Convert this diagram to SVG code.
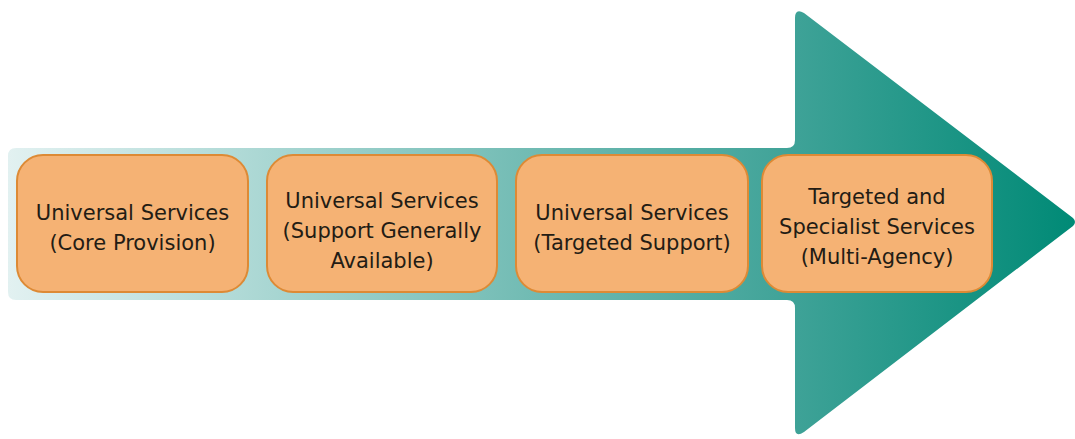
<svg xmlns="http://www.w3.org/2000/svg" width="1075" height="439" viewBox="0 0 1075 439">
<style>
.box{fill:#F5B274;stroke:#DD8A35;stroke-width:2}
.t{font-family:"DejaVu Sans",Verdana,sans-serif;font-size:21px;fill:#231c14;text-anchor:middle}
</style>
<defs>
<linearGradient id="g" gradientUnits="userSpaceOnUse" x1="8" y1="0" x2="1075" y2="0">
<stop offset="0" stop-color="#e2f1f1"/>
<stop offset="0.25" stop-color="#a8d6d2"/>
<stop offset="0.5" stop-color="#6fbab2"/>
<stop offset="0.74" stop-color="#3ea297"/>
<stop offset="1" stop-color="#008a76"/>
</linearGradient>
</defs>
<g id="arrow">
<path d="M16 148 H787 Q795 148 795 140 V18 Q795 8 804 13 L1073 218 Q1077 222 1073 226 L804 432 Q795 438 795 428 V308 Q795 300 787 300 H16 Q8 300 8 292 V156 Q8 148 16 148 Z" fill="url(#g)"/>
</g>
<g id="connectors"></g>
<g id="n1">
<rect class="box" x="17" y="155" width="231" height="137" rx="26"/>
<text class="t" x="132.5" y="220">Universal Services</text>
<text class="t" x="132.5" y="250">(Core Provision)</text>
</g>
<g id="n2">
<rect class="box" x="267" y="155" width="230" height="137" rx="26"/>
<text class="t" x="382" y="208">Universal Services</text>
<text class="t" x="382" y="238">(Support Generally</text>
<text class="t" x="382" y="268">Available)</text>
</g>
<g id="n3">
<rect class="box" x="516" y="155" width="232" height="137" rx="26"/>
<text class="t" x="632" y="220">Universal Services</text>
<text class="t" x="632" y="250">(Targeted Support)</text>
</g>
<g id="n4">
<rect class="box" x="762" y="155" width="230" height="137" rx="26"/>
<text class="t" x="877" y="204">Targeted and</text>
<text class="t" x="877" y="234">Specialist Services</text>
<text class="t" x="877" y="264">(Multi-Agency)</text>
</g>
</svg>
